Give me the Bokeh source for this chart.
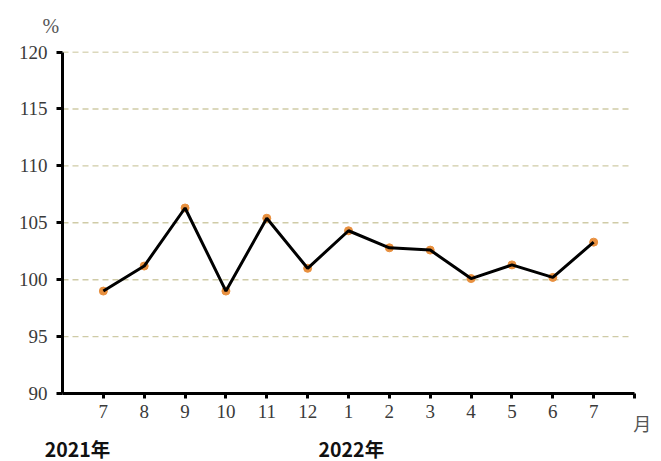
from bokeh.plotting import figure
from bokeh.models import FixedTicker, Range1d, LinearAxis, Title
from bokeh.embed import file_html
from bokeh.resources import INLINE

months = ["7", "8", "9", "10", "11", "12", "1", "2", "3", "4", "5", "6", "7"]
values = [99.0, 101.2, 106.3, 99.0, 105.4, 101.0, 104.3, 102.8, 102.6, 100.1, 101.3, 100.2, 103.3]
y_ticks = [90, 95, 100, 105, 110, 115, 120]
year_labels = ["2021年", "2022年"]
year_pos = [0.37, 7.07]
unit_x = "月"
unit_pos = 14.19
x_end = 14
grid_end = 13.88

xs = list(range(1, len(values) + 1))

p = figure(frame_width=590, frame_height=342, output_backend="svg", toolbar_location=None,
           x_range=Range1d(0, 14.44), y_range=Range1d(90, 120.05),
           min_border_left=62, min_border_right=3, min_border_top=51, min_border_bottom=66)
p.outline_line_color = None
p.background_fill_color = "white"

p.xgrid.visible = False
p.ygrid.visible = False

# dashed horizontal grid lines (stop short of the axis end)
grid_y = y_ticks[1:]
p.segment(x0=[0] * len(grid_y), y0=grid_y, x1=[grid_end] * len(grid_y), y1=grid_y,
          line_color="#cfcba6", line_dash="6 4", line_width=1.4)

for ax in (p.xaxis[0], p.yaxis[0]):
    ax.axis_line_color = "black"
    ax.axis_line_width = 3
    ax.major_tick_line_color = "black"
    ax.major_tick_line_width = 3
    ax.minor_tick_line_color = None
    ax.major_label_text_font = "Liberation Serif"
    ax.major_label_text_font_size = "19px"
    ax.major_label_text_color = "#3a3a3a"

p.yaxis.ticker = FixedTicker(ticks=y_ticks)
p.yaxis.bounds = (90, 120)
p.yaxis.major_tick_out = 6
p.yaxis.major_tick_in = 0
p.yaxis.major_label_standoff = 9

overrides = {x: m for x, m in zip(xs, months)}
overrides[x_end] = ""
p.xaxis.ticker = FixedTicker(ticks=xs + [x_end])
p.xaxis.major_label_overrides = overrides
p.xaxis.bounds = (0, x_end)
p.xaxis.major_tick_out = 5
p.xaxis.major_tick_in = 0
p.xaxis.major_label_standoff = 6

# unit axis (月)
uax = LinearAxis(ticker=FixedTicker(ticks=[unit_pos]),
                 major_label_overrides={unit_pos: unit_x},
                 axis_line_color=None, major_tick_line_color=None, minor_tick_line_color=None,
                 major_tick_out=0, major_tick_in=0,
                 major_label_text_font="Noto Sans CJK SC", major_label_text_font_size="18px",
                 major_label_text_color="#555555", major_label_standoff=-11)
p.add_layout(uax, "below")

# years axis
yax = LinearAxis(ticker=FixedTicker(ticks=year_pos),
                 major_label_overrides={k: v for k, v in zip(year_pos, year_labels)},
                 axis_line_color=None, major_tick_line_color=None, minor_tick_line_color=None,
                 major_tick_out=0, major_tick_in=0,
                 major_label_text_font="Noto Sans CJK SC", major_label_text_font_size="19.5px",
                 major_label_text_font_style="bold", major_label_text_color="#111111",
                 major_label_standoff=-5)
p.add_layout(yax, "below")

p.scatter(xs, values, size=8, fill_color="#e8903f", line_color="#e8903f")
p.line(xs, values, line_color="black", line_width=3)

p.add_layout(Title(text="%", align="left", offset=-20, text_font="Liberation Serif",
                   text_font_size="20px", text_font_style="normal", text_color="#555555",
                   vertical_align="top", standoff=25), "above")

open("out.html", "w").write(file_html(p, INLINE))
